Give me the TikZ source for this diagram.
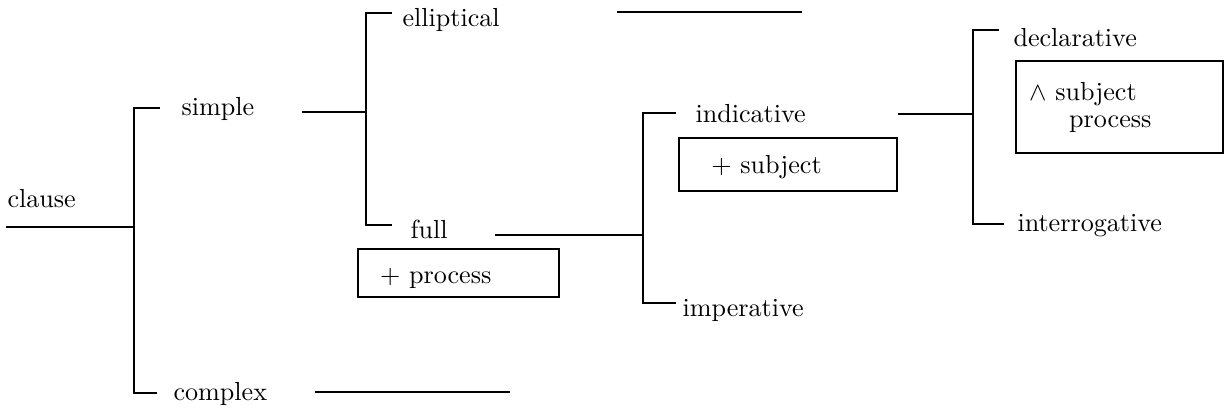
\documentclass[tikz,border=0pt]{standalone}
\usepackage{amsmath}
\usepackage{amssymb}
\usepackage{tikz}
\usetikzlibrary{positioning, calc}

\begin{document}
\begin{tikzpicture}[x=0.383pt, y=-0.383pt,
    lbl/.style={anchor=base west, inner sep=0pt},
    brk/.style={line width=1pt},
    cont/.style={line width=0.75pt},
    featbox/.style={draw, line width=0.9pt, anchor=north west, align=left, inner ysep=0pt}]
    \useasboundingbox (0,0) rectangle (1225,410);

    % Labels of the system network
    \node[lbl] (clause) at (7,208) {clause};
    \node[lbl] (simple) at (181,116) {simple};
    \node[lbl] (complex) at (173,401) {complex};
    \node[lbl] (elliptical) at (402,27) {elliptical};
    \node[lbl] (full) at (410,239) {full};
    \node[lbl] (indicative) at (695,123) {indicative};
    \node[lbl] (imperative) at (682,317) {imperative};
    \node[lbl] (declarative) at (1013,47) {declarative};
    \node[lbl] (interrogative) at (1017,232) {interrogative};

    % Realisation boxes
    \node[featbox, inner xsep=8.4pt, text width=60.2pt, text height=13pt, text depth=5.4pt] (procbox) at (357,248) {$+$ process};
    \node[featbox, inner xsep=12.3pt, text width=58.9pt, text height=13.4pt, text depth=6.9pt] (subjbox) at (678,137) {$+$ subject};
    \node[featbox, inner xsep=5pt, text width=69.3pt, minimum height=35.2pt] (declbox) at (1015,60) {$\wedge$ subject\\[-1.7pt]\hspace*{15.3pt}process};

    % Bracket points
    \coordinate (cl) at (6,227);   \coordinate (b1) at (134,227);
    \coordinate (b1t) at (134,108); \coordinate (b1te) at (160,108);
    \coordinate (b1b) at (134,393); \coordinate (b1be) at (157,393);
    \coordinate (s0) at (302,112);  \coordinate (b2) at (366,112);
    \coordinate (b2t) at (366,13);  \coordinate (b2te) at (392,13);
    \coordinate (b2b) at (366,225); \coordinate (b2be) at (392,225);
    \coordinate (e0) at (617,12);   \coordinate (e1) at (802,12);
    \coordinate (f0) at (495,235);  \coordinate (b3) at (643,235);
    \coordinate (b3t) at (643,113); \coordinate (b3te) at (676,113);
    \coordinate (b3b) at (643,303); \coordinate (b3be) at (676,303);
    \coordinate (i0) at (898,114);  \coordinate (b4) at (973,114);
    \coordinate (b4t) at (973,30);  \coordinate (b4te) at (999,30);
    \coordinate (b4b) at (973,224); \coordinate (b4be) at (1004,224);
    \coordinate (x0) at (315,392);  \coordinate (x1) at (510,392);

    % Entry lines
    \draw[cont] (cl) -- (b1);
    \draw[cont] (s0) -- (b2);
    \draw[cont] (f0) -- (b3);
    \draw[cont] (i0) -- (b4);
    \draw[cont] (e0) -- (e1);
    \draw[cont] (x0) -- (x1);

    % Brackets
    \draw[brk] (b1te) -- (b1t) -- (b1b) -- (b1be);
    \draw[brk] (b2te) -- (b2t) -- (b2b) -- (b2be);
    \draw[brk] (b3te) -- (b3t) -- (b3b) -- (b3be);
    \draw[brk] (b4te) -- (b4t) -- (b4b) -- (b4be);
\end{tikzpicture}
\end{document}
